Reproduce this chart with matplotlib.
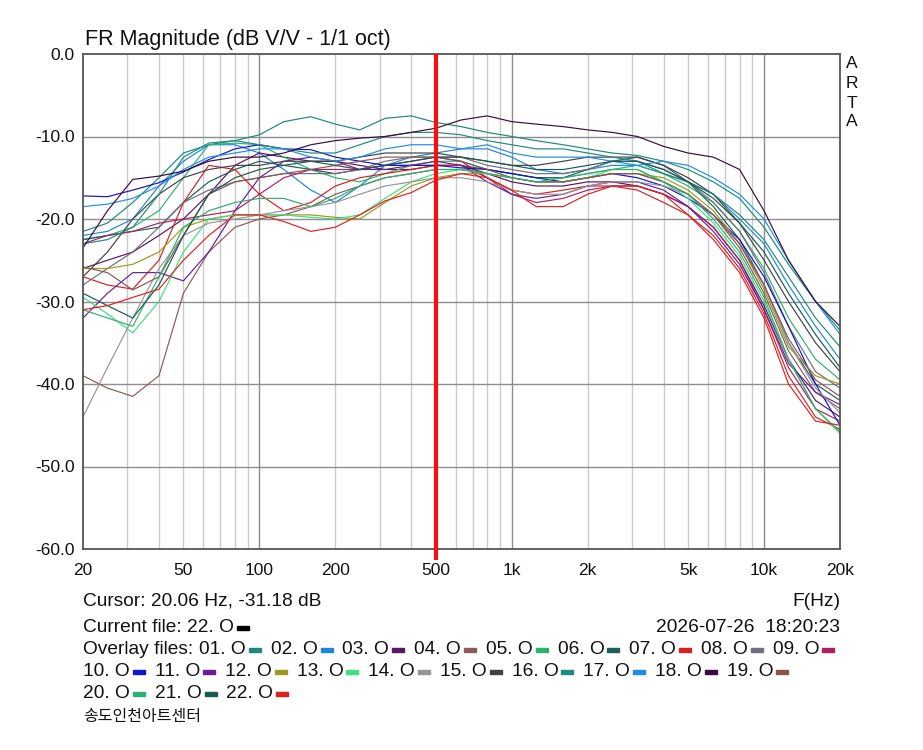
import matplotlib
matplotlib.use('Agg')
import matplotlib.pyplot as plt
from matplotlib.patches import Rectangle
from matplotlib.ticker import NullLocator

plt.rcParams['font.family'] = ['Liberation Sans', 'DejaVu Sans']

# ---------------- data ----------------
freqs = [20, 25, 31.5, 40, 50, 63, 80, 100, 125, 160, 200, 250, 315, 400, 500,
         630, 800, 1000, 1250, 1600, 2000, 2500, 3150, 4000, 5000, 6300, 8000,
         10000, 12500, 16000, 20000]

c01 = [-21.5, -20.5, -18, -15, -12, -11, -10.5, -9.8, -8.2, -7.6, -8.5, -9.2, -7.8, -7.5, -8.3, -8.8, -9.5, -10, -10.5, -11, -11.5, -12, -12.3, -13, -14, -15.5, -17.5, -21, -25.5, -30, -33.5]
c02 = [-22, -21.5, -20, -16, -13, -11, -11, -12, -14, -16.5, -18, -16, -13.5, -12.5, -12, -11.5, -11.5, -12.5, -14, -14.5, -14, -13.5, -13.5, -14.5, -15.5, -17, -20, -23, -28, -33, -37]
c03 = [-26, -25, -24, -22, -20, -17, -13.5, -12, -12.5, -13, -13, -13.5, -14, -14, -13.5, -13.5, -14.5, -15.5, -16, -16, -15.5, -15.5, -16, -17, -18.5, -21, -25, -30.5, -37, -42, -44]
c04 = [-39, -40.5, -41.5, -39, -29, -24, -21, -20, -19.5, -18.5, -17, -16, -15, -14.5, -14, -14, -14.5, -15, -15.5, -15.5, -15, -14.5, -14.5, -15.5, -17, -19.5, -23.5, -29, -36, -41, -43]
c05 = [-22.5, -22, -21, -19, -15, -11, -10.8, -11, -12.5, -14, -15, -15.5, -14.5, -13.5, -13, -13, -14, -14.5, -15, -15, -14.5, -14, -13.5, -14.5, -16, -18, -21.5, -26, -32, -37, -39.5]
c06 = [-22.5, -22, -21.5, -21, -18, -15.5, -14, -13, -13.5, -14, -14.5, -14, -13.5, -13.5, -13.5, -13.5, -14, -14.5, -15, -15, -14, -13, -12.5, -13.5, -15.5, -18.5, -22.5, -28, -35, -40, -42]
c07 = [-27, -28, -28.5, -25, -18, -13.5, -14, -17, -19, -18, -16, -15, -14.5, -14, -13.5, -13.5, -15, -16.5, -17, -16.5, -16, -16, -16.5, -18, -19.5, -22, -26, -31.5, -39, -44, -45.5]
c08 = [-28, -26, -24, -21, -18, -16.5, -15.5, -15, -14.5, -14.5, -14.5, -14, -13, -12.5, -12.5, -12.5, -13.5, -14, -14.5, -14.5, -14, -13, -13, -14, -15.5, -18, -21.5, -26.5, -33, -38.5, -40.5]
c09 = [-23, -22, -21.5, -20.5, -20, -19.5, -19, -17, -15, -14, -14, -14, -13.5, -13, -12.5, -13, -15, -17, -18, -17.5, -16.5, -16, -16, -17, -18.5, -21, -25, -31, -38, -43, -44.5]
c10 = [-17.2, -17.3, -16.5, -15.6, -14.3, -12.8, -11.5, -11, -11.5, -11.6, -12.5, -13, -13.5, -13.5, -13.5, -13.8, -14, -14.5, -15, -15.5, -15, -14.5, -15, -16, -17.5, -19.5, -22.5, -27, -33, -40, -45]
c11 = [-32, -29, -26.5, -26.5, -27.5, -24, -19, -15, -13, -12.5, -13, -14, -14, -13.5, -13, -13.5, -15.5, -17, -17.5, -17, -16, -15.5, -15.5, -16.5, -18.5, -21.5, -25.5, -31, -37.5, -41, -42.5]
c12 = [-26, -26, -25.5, -24, -21, -20, -19.5, -19.5, -19.5, -19.5, -19.8, -20, -18, -16, -15, -14.5, -14.5, -15, -15.5, -15.5, -15, -14.5, -14.5, -15, -16.5, -19, -23, -28.5, -35.5, -39, -40]
c13 = [-29.5, -31.5, -33.8, -30, -24, -20, -19.5, -19.5, -19.5, -19.8, -20, -19.5, -17.5, -15.5, -14.5, -14, -14.5, -15, -15.5, -15.5, -15, -14, -14, -15.5, -17.5, -20.5, -24.5, -30, -37, -43, -46]
c14 = [-44, -38, -32, -26, -22, -20.5, -20, -19.5, -19, -18.5, -18, -17, -16, -15.5, -15, -15, -15.5, -16.5, -17, -17, -16, -15.5, -15.5, -16, -17, -19.5, -23, -28, -35, -40.5, -43.5]
c15 = [-27, -24, -20, -17, -15, -14, -13.5, -13.5, -13, -13, -13, -12.5, -12, -12, -12, -12.5, -13, -13.5, -13.5, -13, -12.5, -12.5, -12.5, -13.5, -15, -17, -20.5, -25, -30, -35, -38.5]
c16 = [-23, -22.5, -21, -17, -12.5, -10.8, -10.5, -11, -11.5, -12, -12, -11, -10, -9.5, -9.5, -9.8, -10.5, -11, -11.5, -11.5, -12, -12.5, -13, -14.5, -15.5, -17, -19.5, -22.5, -27, -32, -35.5]
c17 = [-18.5, -18.2, -17.5, -16, -14, -12.5, -12, -11.5, -11.5, -12.5, -13, -12.5, -11.5, -11, -11, -11.5, -11, -12, -12.5, -12.5, -12.5, -13, -13.5, -13, -13.5, -15, -17, -20, -25, -30, -34]
c18 = [-23.5, -19, -15.2, -14.8, -14.2, -13, -12.5, -12.5, -12, -11, -10.5, -10.2, -10, -9.5, -9, -8, -7.5, -8.2, -8.5, -8.8, -9.2, -9.5, -10, -11.2, -12, -12.5, -14, -19, -25, -30, -33]
c19 = [-25.8, -26.5, -28.6, -27, -22, -17, -15.5, -15, -14.5, -14, -13.5, -13, -12.5, -12.5, -12.5, -13, -14, -15, -15.5, -15.5, -15, -14.5, -14.5, -15.5, -17, -19.5, -23, -28, -34.5, -39.5, -41.5]
c20 = [-31, -32, -33, -27, -21, -19, -18, -17.5, -17.5, -18.5, -17.5, -16, -15, -14.5, -14, -14, -14.5, -15, -15.5, -15, -14.5, -14, -14, -15.5, -17, -20, -24, -29.5, -37, -43, -45.8]
c21 = [-29, -30.5, -32, -28, -22, -17, -15, -14, -13.5, -13, -13.5, -14, -13.5, -13, -12.5, -12.5, -13, -13.5, -14, -14, -13.5, -13, -13, -14, -15.5, -17.5, -20.5, -24, -29, -34, -38]
c22 = [-31, -30.5, -29.5, -28.5, -25, -22, -19.5, -19.5, -20.3, -21.5, -21, -19.5, -17.8, -16.8, -15.3, -14.5, -15, -16.5, -18.5, -18.5, -17, -16, -16, -17, -19.5, -22.5, -26.5, -32, -40, -44.5, -45]

series = [c01, c02, c03, c04, c05, c06, c07, c08, c09, c10, c11,
          c12, c13, c14, c15, c16, c17, c18, c19, c20, c21, c22]
labels = ['01', '02', '03', '04', '05', '06', '07', '08', '09', '10', '11',
          '12', '13', '14', '15', '16', '17', '18', '19', '20', '21', '22']
colors = ['#1b8a7a', '#1f86d6', '#5c1466', '#8b5a5a', '#28b46e', '#1d5e5e',
          '#d82020', '#6e6e7e', '#b01e64', '#1414c8', '#6a1e96', '#9c9a1e',
          '#3ee07e', '#969696', '#424242', '#1e8a80', '#1e8ee6', '#3c0c3c',
          '#8a5454', '#2eb070', '#1a5a50', '#e41e1e']

xtick_vals = [20, 50, 100, 200, 500, 1000, 2000, 5000, 10000, 20000]
xtick_labels = ['20', '50', '100', '200', '500', '1k', '2k', '5k', '10k', '20k']
ytick_vals = [0, -10, -20, -30, -40, -50, -60]
ytick_labels = ['0.0', '-10.0', '-20.0', '-30.0', '-40.0', '-50.0', '-60.0']
cursor_freq = 500

title = 'FR Magnitude (dB V/V - 1/1 oct)'
cursor_text = 'Cursor: 20.06 Hz, -31.18 dB'
current_text = 'Current file: 22. O'
date_text = '2026-07-26  18:20:23'
footer_text = '송도인천아트센터'

# ---------------- figure ----------------
W, H = 923, 750
fig = plt.figure(figsize=(W / 100, H / 100), dpi=100)
fig.patch.set_facecolor('white')
ax = fig.add_axes([83 / W, 1 - 549 / H, (840 - 83) / W, (549 - 54) / H])
ax.set_xscale('log')
ax.set_xlim(20, 20000)
ax.set_ylim(-60, 0)

minor_lines = [30, 40, 50, 60, 70, 80, 90, 200, 300, 400, 500, 600, 700, 800, 900,
               2000, 3000, 4000, 5000, 6000, 7000, 8000, 9000]
for f in minor_lines:
    ax.axvline(f, color='#cacaca', lw=1.0, zorder=0)
for f in [100, 1000, 10000]:
    ax.axvline(f, color='#8e8e8e', lw=1.0, zorder=0)
for yv in [-10, -20, -30, -40, -50]:
    ax.axhline(yv, color='#8e8e8e', lw=1.0, zorder=0)

for vals, col in zip(series, colors):
    ax.plot(freqs, vals, color=col, lw=0.85, zorder=2)

ax.plot([cursor_freq, cursor_freq], [0, -61.3], color='#ff0d0d', lw=3.0,
        solid_capstyle='butt', clip_on=False, zorder=6)

ax.xaxis.set_minor_locator(NullLocator())
ax.set_xticks(xtick_vals)
ax.set_xticklabels(xtick_labels)
ax.set_yticks(ytick_vals)
ax.set_yticklabels(ytick_labels)
ax.tick_params(axis='both', length=0, labelsize=12.5, colors='#111111')
ax.tick_params(axis='x', pad=10)
ax.tick_params(axis='y', pad=6)
for sp in ax.spines.values():
    sp.set_color('#555555')
    sp.set_linewidth(1.3)

# ---------------- texts ----------------
renderer = fig.canvas.get_renderer()
FS = 13.8


def put(x, ybase, s, size=FS, ha='left', **kw):
    t = fig.text(x / W, 1 - ybase / H, s, fontsize=size, va='baseline', ha=ha,
                 color='#111111', **kw)
    bb = t.get_window_extent(renderer)
    return bb.x1


def swatch(x, ybase, color):
    fig.patches.append(Rectangle((x / W, 1 - (ybase - 2) / H), 12 / W, 4 / H,
                                 transform=fig.transFigure, color=color,
                                 zorder=5))


put(85, 45, title, size=15.5)

for ch, yc in zip('ARTA', [63, 84, 104, 122]):
    fig.text(852 / W, 1 - yc / H, ch, fontsize=12.5, ha='center', va='center',
             color='#111111')

put(83, 606, cursor_text)
put(840, 606, 'F(Hz)', ha='right')
x_end = put(83, 632, current_text)
swatch(x_end + 3, 632, '#000000')
put(840, 632, date_text, ha='right')

rows = [(654, 0, 9), (676, 9, 19), (698, 19, 22)]
for ybase, i0, i1 in rows:
    x = 83
    if i0 == 0:
        x = put(83, ybase, 'Overlay files:') + 6
    for i in range(i0, i1):
        xe = put(x, ybase, labels[i] + '. O')
        swatch(xe + 3, ybase, colors[i])
        x = xe + 3 + 12 + 10

fig.text(83 / W, 1 - 721 / H, footer_text, fontsize=11.5, ha='left', va='baseline',
         family=['Noto Sans CJK KR', 'DejaVu Sans'], color='#111111')

fig.savefig('out.png', dpi=100, facecolor='white')
